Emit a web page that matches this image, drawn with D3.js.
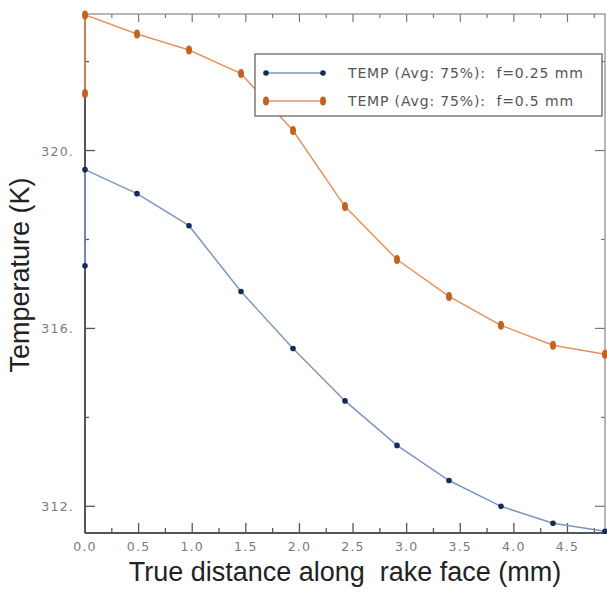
<!DOCTYPE html>
<html lang="en">
<head>
<meta charset="utf-8">
<title>Temperature along rake face</title>
<script src="https://d3js.org/d3.v7.min.js"></script>
<style>
body { margin: 0; background: #fff; }
text { white-space: pre; }
.tick-label { font-family: "DejaVu Sans", sans-serif; font-size: 12.5px; fill: #7a7a7a; letter-spacing: 1.2px; }
.title { font-family: "Liberation Sans", Arial, sans-serif; font-size: 27px; fill: #222; }
.legend-text { font-family: "DejaVu Sans", sans-serif; font-size: 14px; fill: #555; letter-spacing: 0.85px; }
</style>
</head>
<body>
<div id="chart"></div>
<script>
// distance along rake face (mm), first node repeated at 0
var distance = [0, 0, 0.485, 0.97, 1.455, 1.94, 2.425, 2.91, 3.395, 3.88, 4.365, 4.85];
// temperatures (K)
var tempF025 = [317.41, 319.57, 319.03, 318.31, 316.83, 315.55, 314.37, 313.37, 312.58, 312.0, 311.62, 311.44];
var tempF05  = [321.28, 323.05, 322.62, 322.26, 321.73, 320.45, 318.74, 317.55, 316.72, 316.07, 315.62, 315.42];
var seriesNames = ["TEMP (Avg: 75%):  f=0.25 mm", "TEMP (Avg: 75%):  f=0.5 mm"];

var xMajor = [0, 0.5, 1, 1.5, 2, 2.5, 3, 3.5, 4, 4.5];
var xMinor = [0.25, 0.75, 1.25, 1.75, 2.25, 2.75, 3.25, 3.75, 4.25, 4.75];
var yMajor = [312, 316, 320];
var yMinor = [314, 318, 322];

var W = 607, H = 593;
var margin = {top: 14, right: 2, bottom: 60, left: 85};
var width = W - margin.left - margin.right,
    height = H - margin.top - margin.bottom;

var svg = d3.select("#chart").append("svg")
  .attr("width", W).attr("height", H)
  .append("g")
  .attr("transform", "translate(" + margin.left + "," + margin.top + ")");

var x = d3.scaleLinear().domain([0, 4.85]).range([0, width]);
var y = d3.scaleLinear().domain([311.4, 323.07]).range([height, 0]);

var frameColor = "#555";

// ticks on all four sides, pointing inwards
function tickLines(vals, len, horizontal) {
  vals.forEach(function(v) {
    if (horizontal) {
      svg.append("line").attr("x1", x(v)).attr("x2", x(v)).attr("y1", height).attr("y2", height - len)
        .attr("stroke", frameColor).attr("stroke-width", 1.3);
      svg.append("line").attr("x1", x(v)).attr("x2", x(v)).attr("y1", 0).attr("y2", len * 0.8)
        .attr("stroke", "#777").attr("stroke-width", 1.2);
    } else {
      svg.append("line").attr("y1", y(v)).attr("y2", y(v)).attr("x1", 0).attr("x2", len)
        .attr("stroke", frameColor).attr("stroke-width", 1.3);
      svg.append("line").attr("y1", y(v)).attr("y2", y(v)).attr("x1", width).attr("x2", width - len)
        .attr("stroke", "#777").attr("stroke-width", 1.2);
    }
  });
}
tickLines(xMajor, 10, true);
tickLines(xMinor, 5, true);
tickLines(yMajor, 10, false);
tickLines(yMinor, 4, false);

// frame
svg.append("rect").attr("width", width).attr("height", height)
  .attr("fill", "none").attr("stroke", "#888").attr("stroke-width", 1.2);
svg.append("line").attr("x1", 0).attr("x2", 0).attr("y1", 0).attr("y2", height)
  .attr("stroke", frameColor).attr("stroke-width", 2);
svg.append("line").attr("x1", 0).attr("x2", width).attr("y1", height).attr("y2", height)
  .attr("stroke", frameColor).attr("stroke-width", 2);

// tick labels
svg.selectAll(".xl").data(xMajor).enter().append("text")
  .attr("class", "tick-label")
  .attr("x", function(d) { return x(d); })
  .attr("y", height + 18)
  .attr("text-anchor", "middle")
  .text(function(d) { return d.toFixed(1); });

svg.selectAll(".yl").data(yMajor).enter().append("text")
  .attr("class", "tick-label")
  .attr("x", -11)
  .attr("y", function(d) { return y(d) + 5; })
  .attr("text-anchor", "end")
  .text(function(d) { return d + "."; });

// axis titles
svg.append("text").attr("class", "title")
  .attr("x", 345 - margin.left).attr("y", height + 48)
  .attr("text-anchor", "middle")
  .text("True distance along  rake face (mm)");

svg.append("text").attr("class", "title")
  .attr("transform", "translate(" + (-56) + "," + (275 - margin.top) + ") rotate(-90)")
  .attr("text-anchor", "middle")
  .text("Temperature (K)");

var line = d3.line()
  .x(function(d) { return x(d[0]); })
  .y(function(d) { return y(d[1]); });

var blueData = distance.map(function(d, i) { return [d, tempF025[i]]; });
var orangeData = distance.map(function(d, i) { return [d, tempF05[i]]; });

var blueLine = "#7d97c2", blueDot = "#142c5c";
var orangeLine = "#e39460", orangeDot = "#c4621f";

// orange series
svg.append("path").datum(orangeData)
  .attr("d", line).attr("fill", "none")
  .attr("stroke", orangeLine).attr("stroke-width", 1.5);
svg.selectAll(".od").data(orangeData).enter().append("ellipse")
  .attr("cx", function(d) { return x(d[0]); })
  .attr("cy", function(d) { return y(d[1]); })
  .attr("rx", 3).attr("ry", 4.5)
  .attr("fill", orangeDot);

// blue series
svg.append("path").datum(blueData)
  .attr("d", line).attr("fill", "none")
  .attr("stroke", blueLine).attr("stroke-width", 1.5);
svg.selectAll(".bd").data(blueData).enter().append("circle")
  .attr("cx", function(d) { return x(d[0]); })
  .attr("cy", function(d) { return y(d[1]); })
  .attr("r", 2.8)
  .attr("fill", blueDot);

// legend
var lg = svg.append("g").attr("transform", "translate(" + (255 - margin.left) + "," + (54 - margin.top) + ")");
lg.append("rect").attr("width", 347).attr("height", 62)
  .attr("fill", "#fff").attr("stroke", "#666").attr("stroke-width", 1.3);
var legendColors = [[blueLine, blueDot], [orangeLine, orangeDot]];
seriesNames.forEach(function(name, i) {
  var ly = 19 + i * 28;
  lg.append("line").attr("x1", 11).attr("x2", 68).attr("y1", ly).attr("y2", ly)
    .attr("stroke", legendColors[i][0]).attr("stroke-width", 1.5);
  [11, 68].forEach(function(px) {
    if (i === 0) {
      lg.append("circle").attr("cx", px).attr("cy", ly).attr("r", 2.8).attr("fill", legendColors[i][1]);
    } else {
      lg.append("ellipse").attr("cx", px).attr("cy", ly).attr("rx", 3).attr("ry", 4.5).attr("fill", legendColors[i][1]);
    }
  });
  lg.append("text").attr("class", "legend-text")
    .attr("x", 93).attr("y", ly + 5)
    .text(name);
});
</script>
</body>
</html>
